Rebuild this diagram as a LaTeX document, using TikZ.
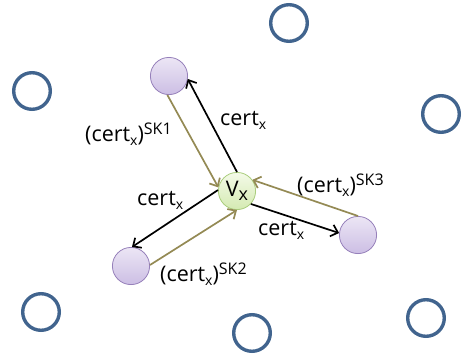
\documentclass[tikz,border=0pt]{standalone}
\usepackage{fontspec}
\setmainfont{Open Sans}
\usetikzlibrary{arrows.meta}
\definecolor{ringblue}{RGB}{65,100,142}
\definecolor{peerborder}{RGB}{150,128,186}
\definecolor{peertop}{RGB}{236,230,245}
\definecolor{peerbot}{RGB}{204,190,228}
\definecolor{vborder}{RGB}{170,205,125}
\definecolor{vtop}{RGB}{244,250,232}
\definecolor{vbot}{RGB}{212,234,178}
\definecolor{goldc}{RGB}{148,138,84}
\newcommand\cx{cert\raisebox{-4pt}{\fontsize{14}{14}\selectfont x}}
\newcommand\skk[1]{\raisebox{6.5pt}{\fontsize{16}{16}\selectfont SK#1}}
\begin{document}
\begin{tikzpicture}[x=1pt,y=-1pt,
  ring/.style={circle,draw=ringblue,line width=3.4pt,minimum size=36.6pt,inner sep=0pt},
  peer/.style={circle,draw=peerborder,line width=0.8pt,top color=peertop,bottom color=peerbot,minimum size=37.2pt,inner sep=0pt},
  vnode/.style={circle,draw=vborder,line width=0.8pt,top color=vtop,bottom color=vbot,minimum size=37.2pt,inner sep=0pt},
  lbl/.style={anchor=base west,inner sep=0pt,font=\fontsize{21.5}{25}\selectfont},
  blk/.style={draw=black,line width=1.7pt,-{Straight Barb[length=6.5pt,width=12pt,line width=1.7pt]}},
  gld/.style={draw=goldc,line width=1.7pt,-{Straight Barb[length=6.5pt,width=12pt,line width=1.7pt]}}]
\useasboundingbox (0,0) rectangle (463,356);
% outer rings
\node[ring] (r1) at (289,23) {};
\node[ring] (r2) at (32,91) {};
\node[ring] (r3) at (441,114) {};
\node[ring] (r4) at (41,312) {};
\node[ring] (r5) at (252,333) {};
\node[ring] (r6) at (426,318) {};
% peers
\node[peer] (p1) at (169,76) {};
\node[peer] (p2) at (131,266) {};
\node[peer] (p3) at (358,235) {};
\node[vnode] (v) at (237,191) {\fontsize{21.5}{25}\selectfont V\raisebox{-4pt}{\fontsize{18}{18}\selectfont x}};
% arrows
\draw[gld] (p1.-95) -- (v.169);
\draw[blk] (v.90) -- (p1.-9);
\draw[blk] (v.177) -- (p2.87);
\draw[gld] (p2.3) -- (v.-90);
\draw[blk] (v.-43) -- (p3.174);
\draw[gld] (p3.90) -- (v.36);
% labels
\node[lbl] (l1) at (220,125) {\cx};
\node[lbl] (l2) at (85,141) {(\cx)\skk1};
\node[lbl] (l3) at (137,205) {\cx};
\node[lbl] (l4) at (160,281) {(\cx)\skk2};
\node[lbl] (l5) at (297,192) {(\cx)\skk3};
\node[lbl] (l6) at (258,235) {\cx};
\end{tikzpicture}
\end{document}
